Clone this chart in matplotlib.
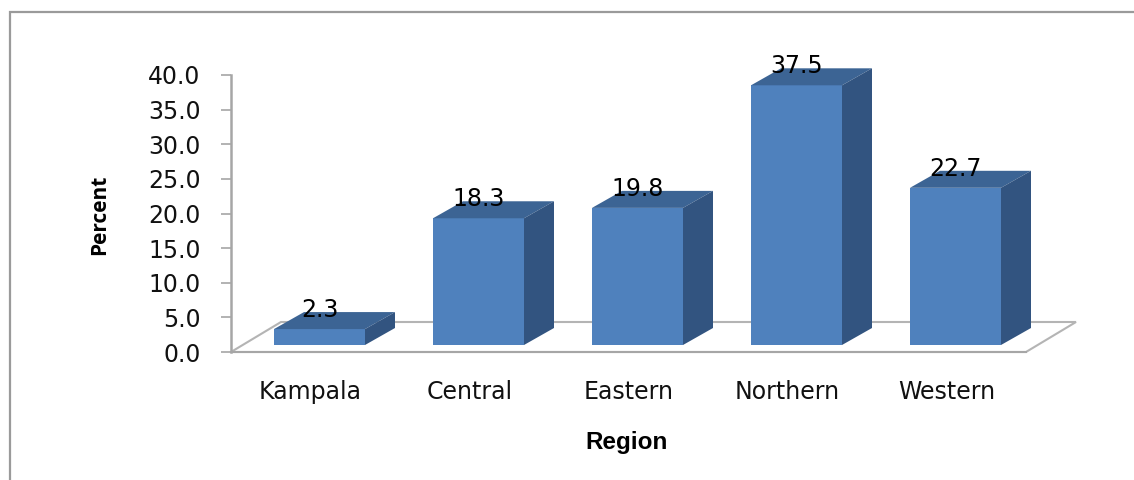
import matplotlib
matplotlib.use("Agg")
import matplotlib.pyplot as plt
from matplotlib.patches import Polygon, Rectangle

regions = ["Kampala", "Central", "Eastern", "Northern", "Western"]
percent = [2.3, 18.3, 19.8, 37.5, 22.7]
y_ticks = [0, 5, 10, 15, 20, 25, 30, 35, 40]

W, H = 1134, 480
FRONT = "#4F81BD"
TOP = "#3C6494"
SIDE = "#325480"
GREY = "#A6A6A6"

fig = plt.figure(figsize=(W / 100, H / 100), dpi=100)

# chart border, drawn in figure pixels
fig.add_artist(Rectangle((9.5 / W, -0.1), 1.2, 1.1 - 11.5 / H, transform=fig.transFigure,
                         fill=False, ec="#9A9A9A", lw=1.6))

# axes box runs over the front edge of the floor
left, right, top, bottom = 231, 1026, 75, 352
ax = fig.add_axes([left / W, 1 - bottom / H, (right - left) / W, (bottom - top) / H])
ax.set_xlim(-0.5, 4.5)
ax.set_ylim(0, 40)
ax.patch.set_visible(False)

# 3d offsets in data units
depth_x = 30 / 159
depth_y = 17 / (277 / 40)
shift_x = 9 / 159
lift = 7 / (277 / 40)
bar_w = 91 / 159
floor_dx = 50 / 159
floor_dy = 30 / (277 / 40)

ax.add_patch(Polygon([(-0.5, 0), (4.5, 0), (4.5 + floor_dx, floor_dy), (-0.5 + floor_dx, floor_dy)],
                     closed=True, fill=False, ec="#B4B4B4", lw=1.5, clip_on=False, zorder=1))

xs = [i + shift_x for i in range(len(percent))]
ax.bar(xs, percent, width=bar_w, bottom=lift, color=FRONT, zorder=3)
for x, v in zip(xs, percent):
    l, r = x - bar_w / 2, x + bar_w / 2
    t = v + lift
    ax.add_patch(Polygon([(l, t), (r, t), (r + depth_x, t + depth_y), (l + depth_x, t + depth_y)],
                         closed=True, fc=TOP, ec="none", clip_on=False, zorder=3))
    ax.add_patch(Polygon([(r, lift), (r + depth_x, lift + depth_y), (r + depth_x, t + depth_y), (r, t)],
                         closed=True, fc=SIDE, ec="none", clip_on=False, zorder=3))
    ax.text(x, t + 2.75, "%.1f" % v, ha="center", va="center", fontsize=17, color="black", zorder=5)

for s in ["top", "right"]:
    ax.spines[s].set_visible(False)
ax.spines["left"].set_color(GREY)
ax.spines["left"].set_linewidth(1.8)
ax.spines["bottom"].set_color(GREY)
ax.spines["bottom"].set_linewidth(1.5)
ax.spines["bottom"].set_zorder(2)

ax.set_yticks(y_ticks)
ax.set_yticklabels(["%.1f" % t for t in y_ticks], fontsize=17, color="#111111")
ax.tick_params(axis="y", length=7, width=1.2, color=GREY, pad=15)
ax.set_xticks([i for i in range(5)])
ax.set_xticklabels(regions, fontsize=17, color="#111111")
ax.tick_params(axis="x", length=0, pad=20)

fig.text(627 / W, 1 - 443 / H, "Region", ha="center", va="center", fontsize=17.5,
         fontweight="bold", family="Liberation Sans")
fig.text(100 / W, 1 - 215 / H, "Percent", ha="center", va="center", rotation=90, fontsize=15,
         fontweight="bold", family=["Open Sans"])

fig.savefig("out.png", dpi=100)
